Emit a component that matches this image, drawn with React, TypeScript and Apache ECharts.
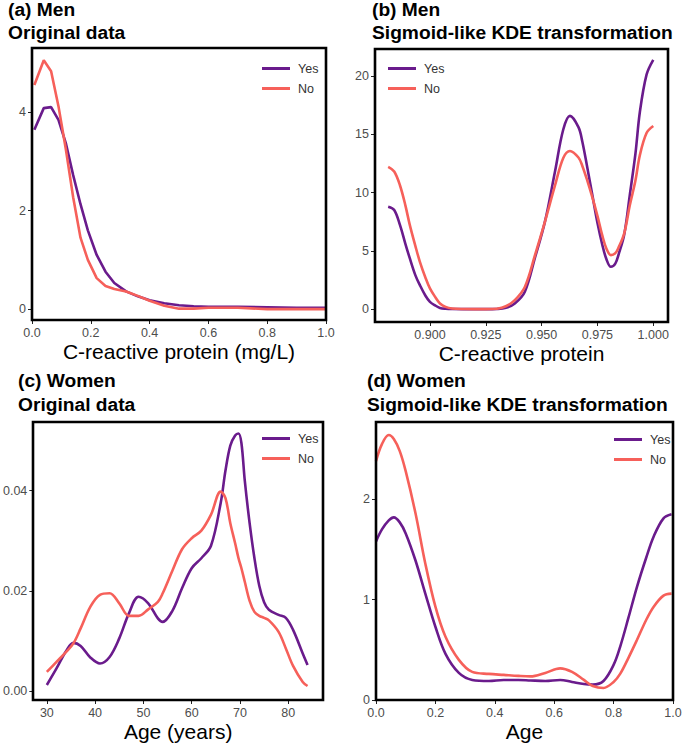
import React, { useEffect, useRef } from "react";
import * as echarts from "echarts";

// ---------- Data ----------
// (a) Men – original C-reactive protein density
const menCrpX = [0.008, 0.04, 0.065, 0.09, 0.115, 0.14, 0.165, 0.19, 0.22, 0.25, 0.28, 0.32, 0.36, 0.40, 0.45, 0.50, 0.55, 0.60, 0.70, 0.80, 0.90, 1.00];
const menCrpYes = [3.64, 4.08, 4.10, 3.84, 3.37, 2.72, 2.13, 1.60, 1.10, 0.76, 0.53, 0.36, 0.26, 0.18, 0.12, 0.08, 0.06, 0.05, 0.05, 0.04, 0.03, 0.03];
const menCrpNo = [4.55, 5.05, 4.83, 4.12, 3.25, 2.27, 1.45, 1.00, 0.63, 0.47, 0.41, 0.36, 0.27, 0.17, 0.07, 0.01, 0.01, 0.03, 0.03, 0.00, 0.00, 0.00];

// (b) Men – sigmoid-like KDE transformation
const menKdeX = [0.8813, 0.884, 0.8866, 0.889, 0.891, 0.8935, 0.8955, 0.898, 0.900, 0.9025, 0.9045, 0.907, 0.910, 0.915, 0.920, 0.925, 0.930, 0.934, 0.938, 0.9425, 0.947, 0.9515, 0.956, 0.9597, 0.9627, 0.9665, 0.9682, 0.9705, 0.9727, 0.975, 0.9772, 0.979, 0.981, 0.983, 0.9845, 0.987, 0.9895, 0.992, 0.994, 0.997, 1.000];
const menKdeYes = [8.78, 8.5, 7.2, 5.6, 4.35, 2.9, 2.06, 1.15, 0.63, 0.3, 0.11, 0.04, 0.01, 0, 0, 0, 0.02, 0.12, 0.49, 1.5, 4.4, 7.5, 11.8, 15.4, 16.57, 15.6, 14.4, 12.1, 9.8, 7.4, 5.5, 4.3, 3.63, 3.9, 4.7, 6.4, 9.8, 13.3, 16.9, 20.1, 21.37];
const menKdeNo = [12.2, 11.8, 10.6, 8.9, 7.2, 5.4, 4.06, 2.7, 1.78, 1.0, 0.49, 0.2, 0.06, 0.01, 0, 0, 0.04, 0.25, 0.77, 1.9, 4.6, 7.5, 10.6, 12.96, 13.56, 13.0, 12.3, 11.0, 9.6, 8.0, 6.3, 5.2, 4.63, 4.8, 5.3, 6.5, 8.9, 11.0, 13.2, 15.1, 15.7];

// (c) Women – original age density
const womenAgeX = [30, 32, 34, 35.5, 37, 39, 41, 43, 45, 47, 49, 51, 53, 54, 56, 58, 60, 62, 64, 66, 67, 68, 69, 69.7, 70.3, 71, 72, 73, 74, 75, 76, 78, 79.5, 81, 83, 84];
const womenAgeYes = [0.0012, 0.0045, 0.0080, 0.0096, 0.0090, 0.0067, 0.0055, 0.0068, 0.0105, 0.0155, 0.0188, 0.0175, 0.0145, 0.0138, 0.0160, 0.0205, 0.0245, 0.0265, 0.0290, 0.0375, 0.0440, 0.0490, 0.0510, 0.0514, 0.0495, 0.0420, 0.0335, 0.0265, 0.0210, 0.0177, 0.0162, 0.0152, 0.0146, 0.0122, 0.0075, 0.0052];
const womenAgeNo = [0.0038, 0.0058, 0.0078, 0.0095, 0.0125, 0.0168, 0.0192, 0.0195, 0.0175, 0.0150, 0.0150, 0.0163, 0.0178, 0.0195, 0.0240, 0.0283, 0.0305, 0.0320, 0.0352, 0.0398, 0.0385, 0.0335, 0.0295, 0.0265, 0.0245, 0.0218, 0.0180, 0.0158, 0.0150, 0.0146, 0.0141, 0.0118, 0.0085, 0.0050, 0.0018, 0.0010];

// (d) Women – sigmoid-like KDE transformation
const womenKdeX = [0, 0.02, 0.043, 0.06, 0.08, 0.1, 0.133, 0.166, 0.2, 0.234, 0.279, 0.324, 0.38, 0.43, 0.48, 0.52, 0.57, 0.62, 0.66, 0.70, 0.73, 0.766, 0.80, 0.822, 0.85, 0.879, 0.91, 0.935, 0.968, 0.995];
const womenKdeYes = [1.58, 1.70, 1.79, 1.82, 1.77, 1.66, 1.39, 1.06, 0.73, 0.46, 0.27, 0.20, 0.19, 0.20, 0.20, 0.195, 0.19, 0.20, 0.18, 0.16, 0.155, 0.19, 0.35, 0.53, 0.82, 1.13, 1.42, 1.63, 1.81, 1.85];
const womenKdeNo = [2.38, 2.55, 2.64, 2.60, 2.48, 2.28, 1.86, 1.36, 0.93, 0.63, 0.40, 0.28, 0.26, 0.25, 0.24, 0.235, 0.27, 0.315, 0.28, 0.20, 0.14, 0.12, 0.18, 0.26, 0.42, 0.60, 0.80, 0.93, 1.04, 1.06];

// Tick labels
const ticksUnit = [0, 0.2, 0.4, 0.6, 0.8, 1.0];
const ticksA_y = [0, 2, 4];
const ticksB_x = [0.9, 0.925, 0.95, 0.975, 1.0];
const ticksB_y = [0, 5, 10, 15, 20];
const ticksC_x = [30, 40, 50, 60, 70, 80];
const ticksC_y = [0, 0.02, 0.04];
const ticksD_y = [0, 1, 2];

const seriesNames = ["Yes", "No"];
const COLORS = ["#6a1b8c", "#f6605a"];
const FONT = "'Liberation Sans', Arial, Helvetica, sans-serif";

// panel frames (layout)
const GRIDS = [
  { left: 32, top: 48, width: 294, height: 272 },
  { left: 375, top: 49, width: 293, height: 273 },
  { left: 33, top: 422, width: 290, height: 278 },
  { left: 376, top: 422, width: 297, height: 278 },
];

const zip = (xs: number[], ys: number[]) => xs.map((x, i) => [x, ys[i]]);

function axisCommon(ticks: number[], digits: number) {
  return {
    axisLine: { show: false, onZero: false },
    splitLine: { show: false },
    axisTick: { show: true, length: 4, lineStyle: { color: "#222", width: 1 }, customValues: ticks },
    axisLabel: {
      customValues: ticks,
      formatter: (v: number) => v.toFixed(digits),
      color: "#4d4d4d",
      fontSize: 12.5,
      margin: 6,
      fontFamily: FONT,
    },
  };
}

function xAxis(gridIndex: number, min: number, max: number, ticks: number[], digits: number, name: string) {
  return {
    type: "value",
    gridIndex,
    min,
    max,
    name,
    nameLocation: "middle",
    nameGap: 21,
    nameTextStyle: { fontSize: 21, color: "#000", fontFamily: FONT },
    ...axisCommon(ticks, digits),
  };
}

function yAxis(gridIndex: number, min: number, max: number, ticks: number[], digits: number) {
  return { type: "value", gridIndex, min, max, ...axisCommon(ticks, digits) };
}

function lineSeries(name: string, idx: number, data: number[][], smooth: boolean | number, color: string) {
  return {
    type: "line",
    name,
    xAxisIndex: idx,
    yAxisIndex: idx,
    data,
    smooth,
    showSymbol: false,
    symbol: "none",
    lineStyle: { color, width: 2.6 },
    itemStyle: { color },
  };
}

function legend(left: number, top: number) {
  return {
    data: seriesNames,
    left,
    top,
    orient: "vertical",
    icon: "rect",
    itemWidth: 28,
    itemHeight: 3,
    itemGap: 7,
    textStyle: { fontSize: 12.5, lineHeight: 12, color: "#333", fontFamily: FONT, padding: [0, 0, 0, 3] },
    selectedMode: false,
  };
}

function title(text: string, x: number, y: number) {
  return {
    type: "text",
    x,
    y,
    style: {
      text,
      fill: "#000",
      font: `bold 19.2px ${FONT}`,
      verticalAlign: "middle",
      align: "left",
    },
  };
}

function frame(g: { left: number; top: number; width: number; height: number }) {
  return {
    type: "rect",
    z: 10,
    silent: true,
    shape: { x: g.left, y: g.top, width: g.width, height: g.height },
    style: { fill: "none", stroke: "#000", lineWidth: 2.6 },
  };
}

export default function App() {
  const ref = useRef<HTMLDivElement>(null);
  useEffect(() => {
    if (!ref.current) return;
    const chart = echarts.init(ref.current, null, { renderer: "svg" });
    chart.setOption({
      animation: false,
      backgroundColor: "#fff",
      grid: GRIDS.map((g) => ({ ...g, containLabel: false })),
      xAxis: [
        xAxis(0, 0, 1, ticksUnit, 1, "C-reactive protein (mg/L)"),
        xAxis(1, 0.8754, 1.0066, ticksB_x, 3, "C-reactive protein"),
        xAxis(2, 27.2, 87.2, ticksC_x, 0, "Age (years)"),
        xAxis(3, 0, 1, ticksUnit, 1, "Age"),
      ],
      yAxis: [
        yAxis(0, -0.22, 5.3, ticksA_y, 0),
        yAxis(1, -1.1, 22.3, ticksB_y, 0),
        yAxis(2, -0.0018, 0.0537, ticksC_y, 2),
        yAxis(3, 0, 2.77, ticksD_y, 0),
      ],
      legend: [legend(257, 57), legend(383, 57), legend(257, 427), legend(609, 428)],
      series: [
        lineSeries(seriesNames[0], 0, zip(menCrpX, menCrpYes), false, COLORS[0]),
        lineSeries(seriesNames[1], 0, zip(menCrpX, menCrpNo), false, COLORS[1]),
        lineSeries(seriesNames[0], 1, zip(menKdeX, menKdeYes), 0.35, COLORS[0]),
        lineSeries(seriesNames[1], 1, zip(menKdeX, menKdeNo), 0.35, COLORS[1]),
        lineSeries(seriesNames[0], 2, zip(womenAgeX, womenAgeYes), 0.35, COLORS[0]),
        lineSeries(seriesNames[1], 2, zip(womenAgeX, womenAgeNo), 0.35, COLORS[1]),
        lineSeries(seriesNames[0], 3, zip(womenKdeX, womenKdeYes), 0.35, COLORS[0]),
        lineSeries(seriesNames[1], 3, zip(womenKdeX, womenKdeNo), 0.35, COLORS[1]),
      ],
      graphic: [
        ...GRIDS.map(frame),
        title("(a) Men", 8, 9.5),
        title("Original data", 8, 32),
        title("(b) Men", 372, 9.5),
        title("Sigmoid-like KDE transformation", 372, 32),
        title("(c) Women", 18, 380),
        title("Original data", 18, 404.5),
        title("(d) Women", 367, 380),
        title("Sigmoid-like KDE transformation", 367, 404.5),
      ],
    });
    return () => chart.dispose();
  }, []);
  return <div ref={ref} style={{ position: "absolute", left: 0, top: 0, width: 685, height: 744 }} />;
}
